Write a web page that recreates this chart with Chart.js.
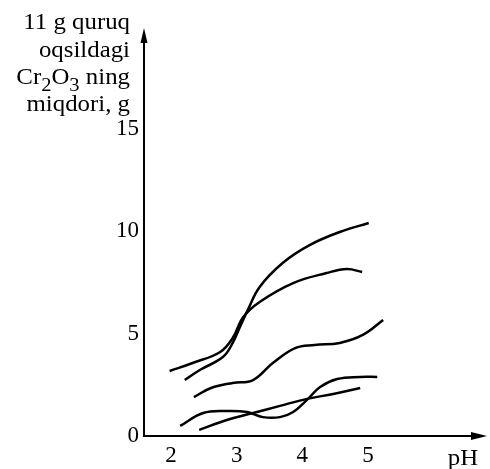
<!DOCTYPE html>
<html>
<head>
<meta charset="utf-8">
<script src="https://cdn.jsdelivr.net/npm/chart.js@4.4.1/dist/chart.umd.min.js"></script>
<style>
  html, body { margin: 0; padding: 0; background: #fff; }
  #wrap { width: 490px; height: 469px; position: relative; }
</style>
</head>
<body>
<div id="wrap"><canvas id="c" width="490" height="469"></canvas></div>
<script>
// ---- data ----
const X_TICKS = [2, 3, 4, 5];
const Y_TICKS = [0, 5, 10, 15];
const X_TITLE = 'pH';
const Y_TITLE_LINES = ['11 g quruq', 'oqsildagi', 'Cr|2|O|3| ning', 'miqdori, g'];

const curve1_pH = [2.21, 2.44, 2.79, 2.94, 3.05, 3.17, 3.35, 3.70, 4.11, 4.57, 5.01];
const curve1_g  = [2.73, 3.22, 3.85, 4.54, 5.32, 6.15, 7.27, 8.44, 9.31, 9.95, 10.39];

const curve2_pH = [1.98, 2.33, 2.75, 2.94, 3.10, 3.35, 3.86, 4.37, 4.68, 4.91];
const curve2_g  = [3.17, 3.56, 4.10, 4.78, 5.80, 6.54, 7.46, 7.95, 8.14, 8.00];

const curve3_pH = [2.35, 2.61, 2.94, 3.25, 3.55, 3.89, 4.19, 4.57, 4.92, 5.23];
const curve3_g  = [1.90, 2.34, 2.59, 2.73, 3.56, 4.29, 4.44, 4.54, 4.93, 5.66];

const curve4_pH = [2.14, 2.49, 2.85, 3.16, 3.40, 3.66, 3.86, 4.07, 4.27, 4.53, 4.88, 5.14];
const curve4_g  = [0.49, 1.12, 1.22, 1.17, 0.92, 0.92, 1.17, 1.76, 2.39, 2.78, 2.88, 2.88];

const curve5_pH = [2.43, 2.85, 3.25, 3.66, 4.07, 4.47, 4.88];
const curve5_g  = [0.30, 0.78, 1.12, 1.47, 1.81, 2.05, 2.34];

const SERIES = [
  [curve1_pH, curve1_g],
  [curve2_pH, curve2_g],
  [curve3_pH, curve3_g],
  [curve4_pH, curve4_g],
  [curve5_pH, curve5_g]
];

const FONT = "'Liberation Serif', 'Times New Roman', serif";

const datasets = SERIES.map(([xs, ys]) => ({
  data: xs.map((x, i) => ({ x: x, y: ys[i] })),
  borderColor: '#000',
  borderWidth: 2.5,
  pointRadius: 0,
  fill: false,
  tension: 0.4
}));

const STRETCH = 1.08;

const decor = {
  id: 'decor',
  afterDraw(chart) {
    const ctx = chart.ctx;
    const a = chart.chartArea;
    const x0 = a.left, y0 = a.bottom;
    ctx.save();
    ctx.strokeStyle = '#000';
    ctx.fillStyle = '#000';
    ctx.lineWidth = 2;
    // y axis
    ctx.beginPath();
    ctx.moveTo(x0, y0 + 1);
    ctx.lineTo(x0, a.top + 8);
    ctx.stroke();
    ctx.beginPath();
    ctx.moveTo(x0, a.top);
    ctx.lineTo(x0 - 3.5, a.top + 15);
    ctx.lineTo(x0 + 3.5, a.top + 15);
    ctx.closePath();
    ctx.fill();
    // x axis
    ctx.beginPath();
    ctx.moveTo(x0 - 1, y0);
    ctx.lineTo(a.right - 8, y0);
    ctx.stroke();
    ctx.beginPath();
    ctx.moveTo(a.right, y0);
    ctx.lineTo(a.right - 16, y0 - 4);
    ctx.lineTo(a.right - 16, y0 + 4);
    ctx.closePath();
    ctx.fill();
    // x title
    ctx.save();
    ctx.font = '23px ' + FONT;
    ctx.textBaseline = 'alphabetic';
    ctx.textAlign = 'center';
    ctx.translate(463, 465);
    ctx.scale(STRETCH, 1);
    ctx.fillText(X_TITLE, 0, 0);
    ctx.restore();
    // y title (right aligned, with subscripts)
    const rightX = 130;
    const baselines = [29, 57, 84, 111];
    ctx.textAlign = 'left';
    ctx.textBaseline = 'alphabetic';
    Y_TITLE_LINES.forEach((line, i) => {
      const parts = line.split('|');
      let w = 0;
      const segs = parts.map((p, j) => {
        const sub = j % 2 === 1;
        ctx.font = (sub ? '19px ' : '23px ') + FONT;
        const m = ctx.measureText(p).width;
        w += m;
        return { p, sub, m };
      });
      ctx.save();
      ctx.translate(rightX, baselines[i]);
      ctx.scale(STRETCH, 1);
      let x = -w;
      segs.forEach(s => {
        ctx.font = (s.sub ? '19px ' : '23px ') + FONT;
        ctx.fillText(s.p, x, s.sub ? 7 : 0);
        x += s.m;
      });
      ctx.restore();
    });
    ctx.restore();
  }
};

new Chart(document.getElementById('c'), {
  type: 'line',
  data: { datasets },
  options: {
    responsive: false,
    animation: false,
    layout: { padding: { left: 0, top: 28, right: 3, bottom: 0 } },
    plugins: { legend: { display: false }, tooltip: { enabled: false }, title: { display: false } },
    scales: {
      x: {
        type: 'linear',
        min: 1.59,
        max: 6.81,
        grid: { display: false, drawTicks: false },
        border: { display: false },
        afterBuildTicks: s => { s.ticks = X_TICKS.map(v => ({ value: v })); },
        afterFit: s => { s.height = 33; },
        ticks: { color: '#000', font: { family: FONT, size: 23 }, padding: 6, maxRotation: 0, autoSkip: false }
      },
      y: {
        type: 'linear',
        min: 0,
        max: 19.9,
        grid: { display: false, drawTicks: false },
        border: { display: false },
        afterBuildTicks: s => { s.ticks = Y_TICKS.map(v => ({ value: v })); },
        afterFit: s => { s.width = 144; },
        ticks: { color: '#000', font: { family: FONT, size: 23 }, padding: 5, autoSkip: false }
      }
    }
  },
  plugins: [decor]
});
</script>
</body>
</html>
